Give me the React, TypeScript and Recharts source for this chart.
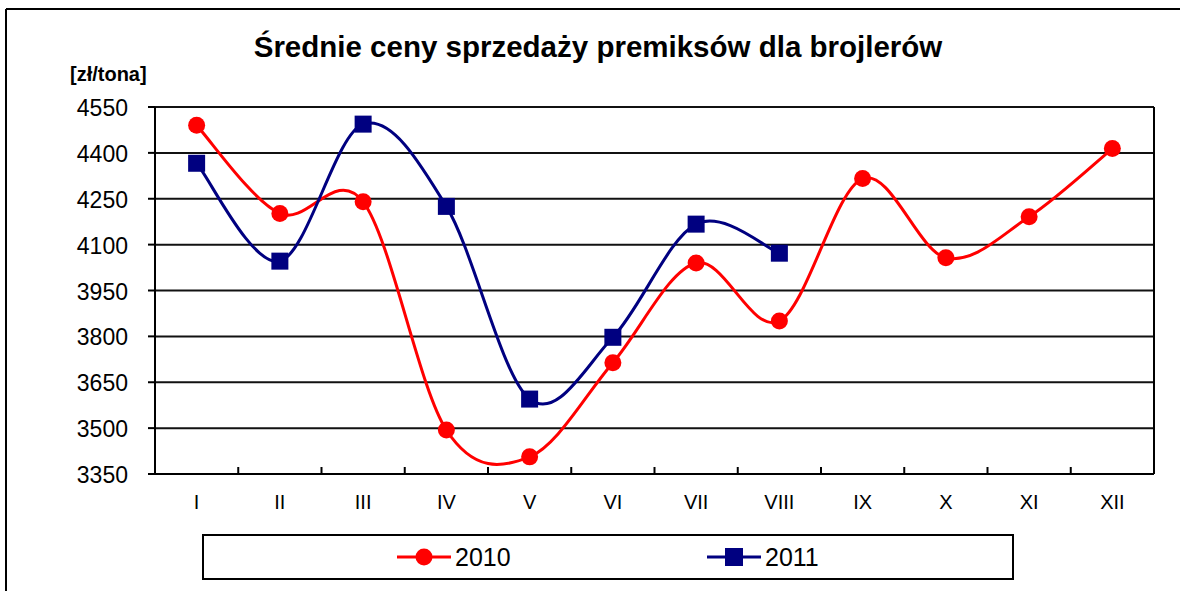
import { CartesianGrid, Line, LineChart, XAxis, YAxis } from "recharts";

// Średnie ceny sprzedaży premiksów dla brojlerów, zł/tona
const MONTHS = ["I", "II", "III", "IV", "V", "VI", "VII", "VIII", "IX", "X", "XI", "XII"];
const PRICES_2010 = [4490, 4202, 4240, 3494, 3406, 3714, 4040, 3850, 4316, 4057, 4191, 4414];
const PRICES_2011 = [4366, 4046, 4494, 4225, 3595, 3797, 4167, 4072, null, null, null, null];
const Y_TICKS = [3350, 3500, 3650, 3800, 3950, 4100, 4250, 4400, 4550];

const TITLE = "Średnie ceny sprzedaży premiksów dla brojlerów";
const UNIT = "[zł/tona]";
const SERIES = [
  { key: "y2010", name: "2010", color: "#FF0000", marker: "circle" },
  { key: "y2011", name: "2011", color: "#000080", marker: "square" },
];

const FONT = "'Liberation Sans', Arial, sans-serif";

const data = MONTHS.map((m, i) => ({
  month: m,
  y2010: PRICES_2010[i],
  y2011: PRICES_2011[i],
}));

// Excel-like smoothed line: Catmull-Rom segments as cubic beziers.
function excelCurve(context: any) {
  let pts: [number, number][] = [];
  return {
    areaStart() {},
    areaEnd() {},
    lineStart() {
      pts = [];
    },
    lineEnd() {
      const n = pts.length;
      if (n === 0) return;
      context.moveTo(pts[0][0], pts[0][1]);
      for (let i = 0; i < n - 1; i++) {
        const p0 = pts[i - 1] ?? pts[i];
        const p1 = pts[i];
        const p2 = pts[i + 1];
        const p3 = pts[i + 2] ?? p2;
        context.bezierCurveTo(
          p1[0] + (p2[0] - p0[0]) / 6,
          p1[1] + (p2[1] - p0[1]) / 6,
          p2[0] - (p3[0] - p1[0]) / 6,
          p2[1] - (p3[1] - p1[1]) / 6,
          p2[0],
          p2[1],
        );
      }
    },
    point(x: number, y: number) {
      pts.push([+x, +y]);
    },
  };
}

function SquareDot(props: any) {
  const { cx, cy, fill, value } = props;
  if (value == null || cx == null || cy == null) return null;
  const s = 17;
  return <rect x={cx - s / 2} y={cy - s / 2} width={s} height={s} fill={fill} />;
}

function CircleDot(props: any) {
  const { cx, cy, fill, value } = props;
  if (value == null || cx == null || cy == null) return null;
  return <circle cx={cx} cy={cy} r={8.5} fill={fill} />;
}

function MonthTick(props: any) {
  const { x, y, payload, index } = props;
  const half = payload?.offset ?? 0;
  return (
    <g>
      {index > 0 && (
        <line x1={x - half} x2={x - half} y1={y} y2={y - 7} stroke="#000" strokeWidth={2} />
      )}
      <text x={x} y={y + 35} textAnchor="middle" fontSize={20} fontFamily={FONT} fill="#000">
        {payload.value}
      </text>
    </g>
  );
}

function PriceTick(props: any) {
  const { x, y, payload } = props;
  return (
    <text x={x} y={y + 9} textAnchor="end" fontSize={23} fontFamily={FONT} fill="#000">
      {payload.value}
    </text>
  );
}

export default function App() {
  return (
    <div style={{ position: "absolute", left: 0, top: 0, width: 1180, height: 591, background: "#fff" }}>
      <LineChart
        width={1180}
        height={591}
        data={data}
        margin={{ top: 107, right: 25, bottom: 77, left: 95 }}
      >
        <CartesianGrid horizontal vertical={false} stroke="#111" strokeWidth={2} />
        <XAxis
          dataKey="month"
          scale="band"
          height={40}
          axisLine={{ stroke: "#000", strokeWidth: 2 }}
          tickLine={false}
          tickSize={0}
          tickMargin={0}
          tick={<MonthTick />}
          interval={0}
        />
        <YAxis
          domain={[3350, 4550]}
          ticks={Y_TICKS}
          interval={0}
          width={60}
          axisLine={{ stroke: "#000", strokeWidth: 2 }}
          tickLine={{ stroke: "#000", strokeWidth: 2 }}
          tickSize={7}
          tickMargin={20}
          tick={<PriceTick />}
        />
        <YAxis
          yAxisId="right"
          orientation="right"
          domain={[3350, 4550]}
          width={1}
          axisLine={{ stroke: "#000", strokeWidth: 2 }}
          tick={false}
          tickLine={false}
        />
        {SERIES.map((s) => (
          <Line
            key={s.key}
            dataKey={s.key}
            name={s.name}
            type={excelCurve as any}
            stroke={s.color}
            fill={s.color}
            strokeWidth={3}
            dot={s.marker === "square" ? <SquareDot /> : <CircleDot />}
            activeDot={false}
            connectNulls={false}
            isAnimationActive={false}
          />
        ))}
      </LineChart>

      <svg
        width={1180}
        height={591}
        style={{ position: "absolute", left: 0, top: 0, pointerEvents: "none" }}
      >
        {/* outer chart frame (cut off at right and bottom) */}
        <line x1={6} y1={9} x2={1180} y2={9} stroke="#000" strokeWidth={2} />
        <line x1={6} y1={9} x2={6} y2={591} stroke="#000" strokeWidth={2} />

        <text x={598} y={57} textAnchor="middle" fontSize={29.5} fontWeight="bold" fontFamily={FONT} fill="#000">
          {TITLE}
        </text>
        <text x={70} y={81} fontSize={20} fontWeight="bold" fontFamily={FONT} fill="#000">
          {UNIT}
        </text>

        {/* legend */}
        <rect x={203} y={535} width={810} height={44} fill="#fff" stroke="#000" strokeWidth={2} />
        {SERIES.map((s, i) => {
          const x0 = i === 0 ? 397 : 707;
          const cy = 557;
          return (
            <g key={s.key}>
              <line x1={x0} x2={x0 + 54} y1={cy} y2={cy} stroke={s.color} strokeWidth={3} />
              {s.marker === "circle" ? (
                <circle cx={x0 + 27} cy={cy} r={8.5} fill={s.color} />
              ) : (
                <rect x={x0 + 27 - 9} y={cy - 9} width={18} height={18} fill={s.color} />
              )}
              <text x={x0 + 58} y={cy + 9} fontSize={25} fontFamily={FONT} fill="#000">
                {s.name}
              </text>
            </g>
          );
        })}
      </svg>
    </div>
  );
}
